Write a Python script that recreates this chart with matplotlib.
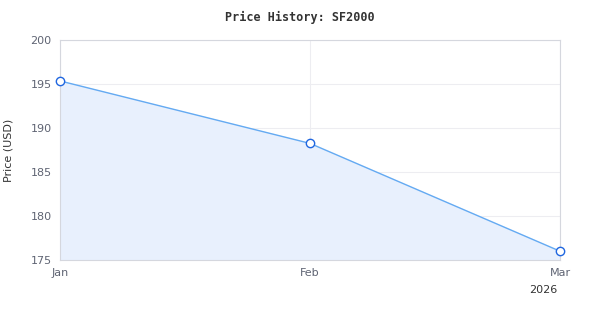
import matplotlib
matplotlib.use("Agg")
import matplotlib.pyplot as plt

months = ["Jan", "Feb", "Mar"]
prices = [195.35, 188.25, 176.0]
yticks = [175, 180, 185, 190, 195, 200]
year_label = "2026"

fig = plt.figure(figsize=(6, 3.2), dpi=100)
ax = fig.add_axes([60/600, 1-260/320, 500/600, 220/320])

x = list(range(len(months)))
ax.fill_between(x, prices, 175, color="#e8f0fd", zorder=1)
ax.plot(x, prices, color="#64aaf2", lw=1.0, zorder=3)
ax.plot(x, prices, ls="none", marker="o", ms=6, mfc="white", mec="#1f66e0", mew=1.0, zorder=4, clip_on=False)

ax.set_xlim(0, 2)
ax.set_ylim(175, 200)
ax.set_xticks(x)
ax.set_xticklabels(months)
ax.set_yticks(yticks)
ax.tick_params(axis="both", length=0, labelsize=8, colors="#5f6473")
ax.tick_params(axis="x", pad=6)
ax.tick_params(axis="y", pad=6)
ax.grid(True, color="#ededf1", lw=0.8, zorder=0)
ax.set_axisbelow(True)
for s in ax.spines.values():
    s.set_color("#d5d7de")
    s.set_linewidth(0.8)

ax.set_ylabel("Price (USD)", fontsize=8, color="#333333", labelpad=12)
fig.text(543/600, 1-290/320, year_label, fontsize=8, color="#333333", ha="center", va="center")
fig.text(0.5, 1-17/320, "Price History: SF2000", fontsize=8.5, fontweight="bold",
         family="DejaVu Sans Mono", color="#333333", ha="center", va="center")

fig.savefig("out.png", dpi=100)
